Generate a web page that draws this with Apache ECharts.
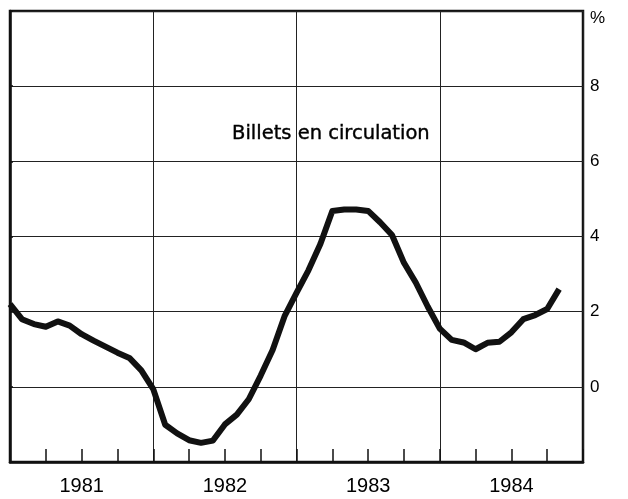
<!DOCTYPE html>
<html>
<head>
<meta charset="utf-8">
<script src="https://cdn.jsdelivr.net/npm/echarts@6/dist/echarts.min.js"></script>
<style>
  html, body { margin: 0; padding: 0; background: #fff; }
  #main { width: 628px; height: 499px; }
</style>
</head>
<body>
<div id="main"></div>
<script>
// Billets en circulation, variation en % (mensuel, janv. 1981 -> nov. 1984)
var years = ['1981', '1982', '1983', '1984'];
var yTicks = [-2, 0, 2, 4, 6, 8, 10];
var billets = [
  2.20, 1.80, 1.67, 1.60, 1.74, 1.63, 1.40, 1.23, 1.07, 0.91, 0.77, 0.44,
  -0.06, -1.01, -1.24, -1.42, -1.49, -1.43, -1.00, -0.74, -0.33, 0.30, 0.98, 1.88,
  2.50, 3.10, 3.80, 4.68, 4.72, 4.72, 4.68, 4.38, 4.04, 3.30, 2.77, 2.13,
  1.55, 1.25, 1.18, 1.00, 1.17, 1.20, 1.45, 1.80, 1.91, 2.07, 2.60
];

var chart = echarts.init(document.getElementById('main'));

// point i = mois i depuis janvier 1981
var points = billets.map(function (v, i) { return [i, v]; });

var option = {
  animation: false,
  title: {
    text: 'Billets en circulation',
    left: 232,
    top: 124,
    padding: 0,
    textStyle: {
      fontFamily: 'DejaVu Sans',
      fontSize: 19.5,
      fontWeight: 'normal',
      color: '#000',
      textBorderColor: '#000',
      textBorderWidth: 0.4
    }
  },
  grid: {
    left: 10,
    right: 45,
    top: 11,
    bottom: 37,
    show: true,
    borderColor: '#111',
    borderWidth: 2.5,
    backgroundColor: '#fff'
  },
  xAxis: [
    {
      // trimestres + années
      type: 'value',
      min: 0,
      max: years.length * 12,
      interval: 3,
      axisLine: { show: true, onZero: false, lineStyle: { color: '#111', width: 2.5 } },
      axisTick: { show: true, inside: true, length: 13, lineStyle: { color: '#111', width: 1.5 } },
      splitLine: { show: false },
      axisLabel: {
        margin: 14,
        fontFamily: 'Liberation Sans',
        fontSize: 20,
        color: '#000',
        formatter: function (v) {
          return v % 12 === 6 ? years[(v - 6) / 12] : '';
        }
      }
    },
    {
      // séparations annuelles
      type: 'value',
      min: 0,
      max: years.length * 12,
      interval: 12,
      position: 'bottom',
      axisLine: { show: false, onZero: false },
      axisTick: { show: false },
      axisLabel: { show: false },
      splitLine: { show: true, lineStyle: { color: '#222', width: 1 } }
    }
  ],
  yAxis: {
    type: 'value',
    position: 'right',
    min: yTicks[0],
    max: yTicks[yTicks.length - 1],
    interval: 2,
    axisLine: { show: true, lineStyle: { color: '#111', width: 2.5 } },
    axisTick: { show: true, length: 3, lineStyle: { color: '#111', width: 1.5 } },
    splitLine: { show: true, lineStyle: { color: '#222', width: 1 } },
    axisLabel: {
      margin: 7,
      fontFamily: 'Liberation Sans',
      fontSize: 17,
      color: '#000',
      formatter: function (v) {
        if (v === 10) return '{p|%}';
        if (v === -2) return '';
        return String(v);
      },
      rich: {
        p: { fontFamily: 'Liberation Sans', fontSize: 17, color: '#000', padding: [14, 0, 0, 0] }
      }
    }
  },
  series: [
    {
      type: 'line',
      xAxisIndex: 0,
      data: points,
      showSymbol: false,
      lineStyle: { color: '#111', width: 6, join: 'round', cap: 'butt' }
    }
  ]
};

chart.setOption(option);
</script>
</body>
</html>
